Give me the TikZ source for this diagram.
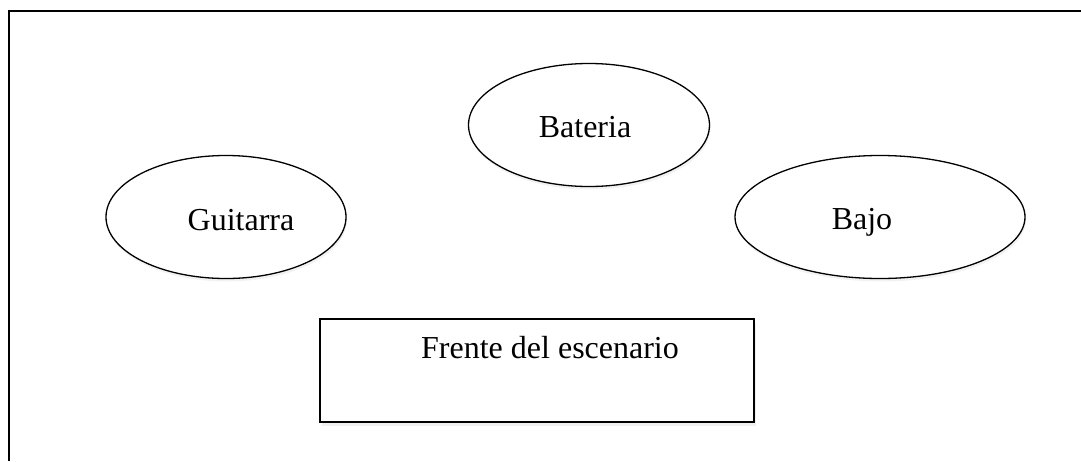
\documentclass[tikz,border=0pt]{standalone}
\usepackage{fontspec}
\setmainfont{Liberation Serif}
\usetikzlibrary{shapes.geometric,shadows}

\begin{document}
\begin{tikzpicture}[
    x=1pt, y=-1pt,
    player/.style={ellipse, draw=black, line width=1.3pt, fill=white,
      drop shadow={opacity=0.10, shadow xshift=1pt, shadow yshift=-3pt}},
    label/.style={font=\fontsize{32}{38}\selectfont, inner sep=0pt, anchor=base},
    front/.style={draw=black, line width=2pt, fill=white,
      drop shadow={opacity=0.12, shadow xshift=2pt, shadow yshift=-4pt}}
  ]

    % Page size
    \useasboundingbox (0,0) rectangle (1081,461);

    % Stage frame (only left and top edges visible)
    \coordinate (frameBL) at (9,461);
    \coordinate (frameTL) at (9,11);
    \coordinate (frameTR) at (1081,11);
    \draw[line width=2pt, line join=miter] (frameBL) -- (frameTL) -- (frameTR);

    % Players
    \node[player, minimum width=241, minimum height=123] (bateria) at (589,125) {};
    \node[player, minimum width=240, minimum height=123] (guitarra) at (226,217) {};
    \node[player, minimum width=290, minimum height=123] (bajo) at (880,217) {};

    % Labels of the players
    \node[label] (bateriaText) at (585,137) {Bateria};
    \node[label] (guitarraText) at (241,230) {Guitarra};
    \node[label] (bajoText) at (862,229) {Bajo};

    % Front of the stage
    \node[front, minimum width=434, minimum height=103] (frente) at (537,370) {};
    \node[label] (frenteText) at (550,358) {Frente del escenario};

  \end{tikzpicture}
\end{document}
